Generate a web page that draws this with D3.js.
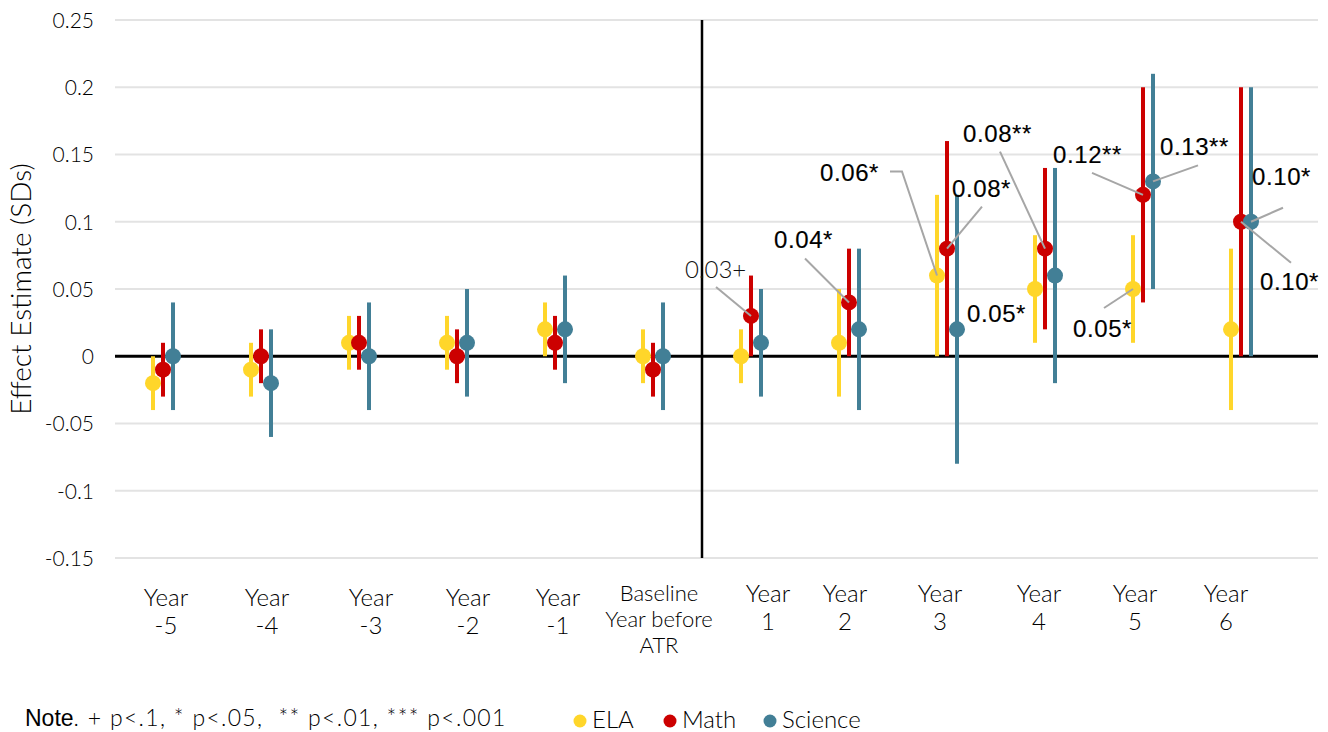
<!DOCTYPE html>
<html>
<head>
<meta charset="utf-8">
<script src="https://cdn.jsdelivr.net/npm/d3@7/dist/d3.min.js"></script>
<style>
  html, body { margin: 0; padding: 0; background: #fff; }
  svg { display: block; }
</style>
</head>
<body>
<svg id="chart" width="1328" height="732"></svg>
<script>
// Event-study estimates by year relative to ATR adoption
const categories = ["Year -5", "Year -4", "Year -3", "Year -2", "Year -1", "Baseline",
                    "Year 1", "Year 2", "Year 3", "Year 4", "Year 5", "Year 6"];
const categoryLabels = [["Year", "-5"], ["Year", "-4"], ["Year", "-3"], ["Year", "-2"], ["Year", "-1"],
                        ["Baseline", "Year before", "ATR"],
                        ["Year", "1"], ["Year", "2"], ["Year", "3"], ["Year", "4"], ["Year", "5"], ["Year", "6"]];
const seriesNames = ["ELA", "Math", "Science"];

const elaEstimate  = [-0.02, -0.01, 0.01, 0.01, 0.02, 0.00, 0.00, 0.01, 0.06, 0.05, 0.05, 0.02];
const elaLower     = [-0.04, -0.03, -0.01, -0.01, 0.00, -0.02, -0.02, -0.03, 0.00, 0.01, 0.01, -0.04];
const elaUpper     = [0.00, 0.01, 0.03, 0.03, 0.04, 0.02, 0.02, 0.05, 0.12, 0.09, 0.09, 0.08];

const mathEstimate = [-0.01, 0.00, 0.01, 0.00, 0.01, -0.01, 0.03, 0.04, 0.08, 0.08, 0.12, 0.10];
const mathLower    = [-0.03, -0.02, -0.01, -0.02, -0.01, -0.03, 0.00, 0.00, 0.00, 0.02, 0.04, 0.00];
const mathUpper    = [0.01, 0.02, 0.03, 0.02, 0.03, 0.01, 0.06, 0.08, 0.16, 0.14, 0.20, 0.20];

const sciEstimate  = [0.00, -0.02, 0.00, 0.01, 0.02, 0.00, 0.01, 0.02, 0.02, 0.06, 0.13, 0.10];
const sciLower     = [-0.04, -0.06, -0.04, -0.03, -0.02, -0.04, -0.03, -0.04, -0.08, -0.02, 0.05, 0.00];
const sciUpper     = [0.04, 0.02, 0.04, 0.05, 0.06, 0.04, 0.05, 0.08, 0.12, 0.14, 0.21, 0.20];

const yTicks = [-0.15, -0.1, -0.05, 0, 0.05, 0.1, 0.15, 0.2, 0.25];
const yTickLabels = ["-0.15", "-0.1", "-0.05", "0", "0.05", "0.1", "0.15", "0.2", "0.25"];

// Significance callouts: series, category, text
const calloutSeries   = ["Math", "Math", "ELA", "Math", "Science", "Math", "Math", "Science", "ELA", "Science", "Math"];
const calloutCategory = ["Year 1", "Year 2", "Year 3", "Year 3", "Year 3", "Year 4", "Year 5", "Year 5", "Year 5", "Year 6", "Year 6"];
const calloutText     = ["0.03+", "0.04*", "0.06*", "0.08*", "0.05*", "0.08**", "0.12**", "0.13**", "0.05*", "0.10*", "0.10*"];

const noteText = ". + p<.1, * p<.05,  ** p<.01, *** p<.001";

// ---- layout ----
const colors = { ELA: "#FFD62A", Math: "#CC0000", Science: "#427F96" };
const plot = { left: 115, right: 1318, top: 20, bottom: 558 };
const LIGHT = "Lato, Roboto, sans-serif";
const SANS = "'Liberation Sans', Arial, sans-serif";

// label offsets relative to the marker (text start / baseline, leader start, optional elbow)
const calloutLayout = [
  { tx: -66, ty: -38, lx: -35, ly: -29, light: true },
  { tx: -75, ty: -54, lx: -44, ly: -44 },
  { tx: -117, ty: -95, lx: -47, ly: -104, ex: -35 },
  { tx: 5, ty: -52, lx: 35, ly: -42 },
  { tx: 10, ty: -7 },
  { tx: -82, ty: -107, lx: -45, ly: -97 },
  { tx: -90, ty: -32, lx: -51, ly: -22 },
  { tx: 7, ty: -26, lx: 45, ly: -16 },
  { tx: -60, ty: 48, lx: -29, ly: 19 },
  { tx: 1, ty: -37, lx: 32, ly: -14 },
  { tx: 19, ty: 68, lx: 50, ly: 41 }
];
const labelShift = [3, 6, 12, 11, 3, 6, 17, -4, -7, -6, -8, -15];

const seriesData = {
  ELA: { est: elaEstimate, lo: elaLower, hi: elaUpper },
  Math: { est: mathEstimate, lo: mathLower, hi: mathUpper },
  Science: { est: sciEstimate, lo: sciLower, hi: sciUpper }
};

const svg = d3.select("#chart");

const y = d3.scaleLinear().domain([-0.15, 0.25]).range([plot.bottom, plot.top]);
const x = d3.scaleBand().domain(categories).range([114, 1290]).padding(0);
const dodge = d3.scalePoint().domain(seriesNames).range([-10, 10]);
const cx = (s, c) => x(c) + x.bandwidth() / 2 + dodge(s);

// gridlines
svg.append("g").selectAll("line").data(yTicks.filter(v => v !== 0)).join("line")
  .attr("x1", plot.left).attr("x2", plot.right)
  .attr("y1", d => y(d)).attr("y2", d => y(d))
  .attr("stroke", "#e3e3e3").attr("stroke-width", 2);

// y axis labels
const yAxis = d3.axisLeft(y).tickValues(yTicks).tickSize(0).tickPadding(0)
  .tickFormat((d, i) => yTickLabels[i]);
const gy = svg.append("g").attr("transform", "translate(94,0)").call(yAxis);
gy.select(".domain").remove();
gy.selectAll("text").style("font-family", LIGHT).style("font-weight", 300)
  .style("font-size", "21px").attr("fill", "#000").attr("dy", "0.35em");

// y axis title
svg.append("text")
  .attr("transform", `translate(31,${(plot.top + plot.bottom) / 2}) rotate(-90)`)
  .attr("text-anchor", "middle")
  .style("font-family", LIGHT).style("font-weight", 300).style("font-size", "28px")
  .attr("fill", "#000")
  .text("Effect Estimate (SDs)");

// zero line and adoption marker
svg.append("line").attr("x1", plot.left).attr("x2", plot.right)
  .attr("y1", y(0)).attr("y2", y(0)).attr("stroke", "#000").attr("stroke-width", 3);
const adoptX = (x("Baseline") + x.bandwidth() + x("Year 1")) / 2;
svg.append("line").attr("x1", adoptX).attr("x2", adoptX)
  .attr("y1", plot.top).attr("y2", plot.bottom).attr("stroke", "#000").attr("stroke-width", 2.5);

// x category labels
const xl = svg.append("g");
categories.forEach((c, i) => {
  const lines = categoryLabels[i];
  const multi = lines.length > 2;
  const cxl = x(c) + x.bandwidth() / 2 + labelShift[i];
  const t = xl.append("text")
    .attr("x", cxl)
    .attr("y", multi ? 601 : (i >= 6 ? 602 : 606))
    .attr("text-anchor", "middle")
    .style("font-family", LIGHT).style("font-weight", 300)
    .style("font-size", multi ? "22px" : "24px").attr("fill", "#000");
  lines.forEach((ln, k) => {
    t.append("tspan").attr("x", cxl)
      .attr("dy", k === 0 ? 0 : (multi ? 26 : 28)).text(ln);
  });
});

// error bars and markers
const marks = svg.append("g");
seriesNames.forEach(s => {
  const d = seriesData[s];
  const g = marks.append("g");
  g.selectAll("line").data(categories).join("line")
    .attr("x1", c => cx(s, c)).attr("x2", c => cx(s, c))
    .attr("y1", (c, i) => y(d.lo[i])).attr("y2", (c, i) => y(d.hi[i]))
    .attr("stroke", colors[s]).attr("stroke-width", 4);
  g.selectAll("circle").data(categories).join("circle")
    .attr("cx", c => cx(s, c)).attr("cy", (c, i) => y(d.est[i]))
    .attr("r", 8).attr("fill", colors[s]);
});

// callouts
const co = svg.append("g");
calloutText.forEach((txt, i) => {
  const s = calloutSeries[i], c = calloutCategory[i];
  const px = cx(s, c), py = y(seriesData[s].est[categories.indexOf(c)]);
  const L = calloutLayout[i];
  if (L.lx !== undefined) {
    const pts = [[px + L.lx, py + L.ly]];
    if (L.ex !== undefined) pts.push([px + L.ex, py + L.ly]);
    pts.push([px, py]);
    co.append("path").attr("d", d3.line()(pts))
      .attr("fill", "none").attr("stroke", "#a6a6a6").attr("stroke-width", 2);
  }
  const t = co.append("text").attr("x", px + L.tx).attr("y", py + L.ty)
    .style("font-size", "24px").attr("fill", "#000")
    .text(txt);
  if (L.light) {
    t.style("font-family", LIGHT).style("font-weight", 300).attr("fill", "#111");
  } else {
    t.style("font-family", SANS).attr("stroke", "#000").attr("stroke-width", 0.15)
      .style("letter-spacing", "0.6px");
  }
});

// note
const note = svg.append("text").attr("x", 25).attr("y", 726)
  .style("font-size", "23px").style("white-space", "pre").attr("fill", "#000");
note.append("tspan").style("font-family", SANS).text("Note");
note.append("tspan").style("font-family", LIGHT).style("font-weight", 300)
  .style("letter-spacing", "1.3px").text(noteText);

// legend
const legendX = [580, 670, 770];
const lg = svg.append("g");
seriesNames.forEach((s, i) => {
  lg.append("circle").attr("cx", legendX[i]).attr("cy", 721).attr("r", 6.5).attr("fill", colors[s]);
  lg.append("text").attr("x", legendX[i] + 12).attr("y", 728)
    .style("font-family", LIGHT).style("font-weight", 300).style("font-size", "24px")
    .attr("fill", "#000").text(s);
});
</script>
</body>
</html>
